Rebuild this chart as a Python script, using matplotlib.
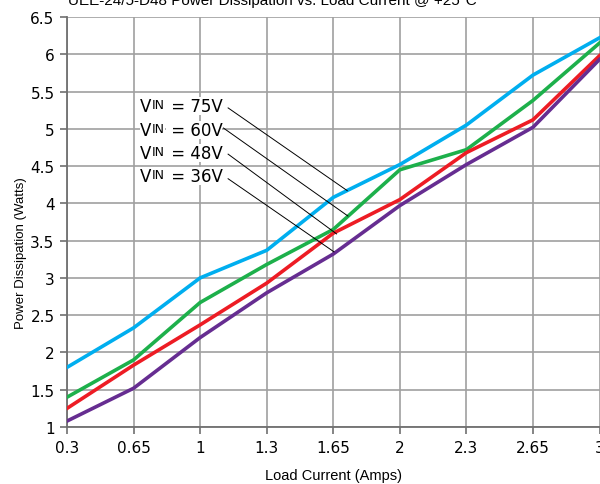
import numpy as np
import matplotlib
matplotlib.use("Agg")
import matplotlib.pyplot as plt

plt.rcParams['font.family'] = ['DejaVu Sans']
narrow = ['Liberation Sans', 'DejaVu Sans']

# data
currents = ["0.3", "0.65", "1", "1.3", "1.65", "2", "2.3", "2.65", "3"]
v75 = [1.80, 2.33, 3.00, 3.37, 4.08, 4.52, 5.05, 5.72, 6.22]
v60 = [1.40, 1.90, 2.67, 3.18, 3.65, 4.45, 4.72, 5.38, 6.15]
v48 = [1.25, 1.83, 2.37, 2.93, 3.60, 4.05, 4.68, 5.12, 5.98]
v36 = [1.08, 1.52, 2.20, 2.80, 3.32, 3.97, 4.52, 5.02, 5.93]

labels = ["75V", "60V", "48V", "36V"]
colors = ["#00AEEF", "#1DB04B", "#ED1C24", "#662D91"]
label_y = [5.30, 4.99, 4.68, 4.37]
# leader lines: (x_start, y_start, x_end, y_end) in category units
leaders = [(2.42, 5.28, 4.21, 4.17),
           (2.35, 5.01, 4.22, 3.83),
           (2.42, 4.66, 4.05, 3.59),
           (2.42, 4.33, 4.01, 3.35)]

fig = plt.figure(figsize=(6, 4.85), dpi=100)
ax = fig.add_axes([0.1117, 0.1175, 0.8875, 0.8455])

x = np.arange(len(currents))
for ys, c in zip([v75, v60, v48, v36], colors):
    ax.plot(x, ys, color=c, lw=2.6, zorder=3)

ax.set_xlim(0, len(currents) - 1)
ax.set_ylim(1, 6.5)
ax.set_xticks(x)
ax.set_xticklabels(currents)
ax.set_yticks(np.arange(1, 6.51, 0.5))
ax.set_yticklabels(["1", "1.5", "2", "2.5", "3", "3.5", "4", "4.5", "5", "5.5", "6", "6.5"])
ax.grid(True, color="#a0a0a0", lw=1.2)
ax.set_axisbelow(True)
for s in ["top", "right"]:
    ax.spines[s].set_visible(False)
for s in ["left", "bottom"]:
    ax.spines[s].set_color("#707070")
    ax.spines[s].set_linewidth(1.3)
ax.tick_params(labelsize=11, length=5, color="#707070", width=1.2, pad=4)
ax.set_xlabel("Load Current (Amps)", fontsize=10.5, labelpad=10, family=narrow)
ax.set_ylabel("Power Dissipation (Watts)", fontsize=9.5, family=narrow)
ax.yaxis.set_label_coords(-0.076, 0.427)

for lab, ly, (x0, y0, x1, y1) in zip(labels, label_y, leaders):
    ax.plot([x0, x1], [y0, y1], color="black", lw=0.7, zorder=4)
    t1 = ax.text(1.10, ly, "V", fontsize=12, va="center", ha="left",
                 bbox=dict(facecolor="white", edgecolor="none", pad=0), zorder=5)
    ax.annotate("IN", xy=(1, 0.22), xycoords=t1, va="bottom", ha="left", fontsize=9,
                bbox=dict(facecolor="white", edgecolor="none", pad=0), zorder=5)
    ax.annotate(" = " + lab, xy=(1, 0), xycoords=t1, xytext=(10, 0), textcoords="offset points",
                va="bottom", ha="left", fontsize=12,
                bbox=dict(facecolor="white", edgecolor="none", pad=0), zorder=5)

fig.text(0.113, 0.99, "UEE-24/5-D48 Power Dissipation vs. Load Current @ +25\u00b0C",
         fontsize=11, ha="left", va="baseline", family=narrow)

fig.savefig("out.png", dpi=100)
